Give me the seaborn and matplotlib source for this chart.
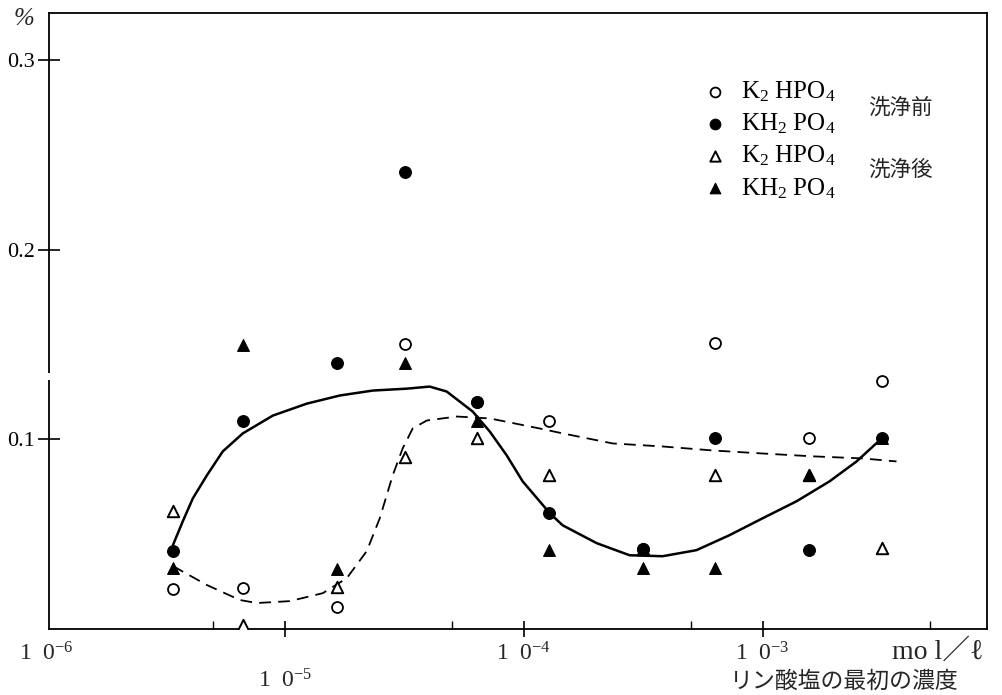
import matplotlib
matplotlib.use("Agg")
import matplotlib.pyplot as plt
import matplotlib.ticker as mticker
from matplotlib.patches import Rectangle
import pandas as pd
import seaborn as sns

# ---------------- data ----------------
conc = [3.4e-6, 6.7e-6, 1.65e-5, 3.2e-5, 6.4e-5, 1.28e-4, 3.15e-4, 6.3e-4, 1.57e-3, 3.15e-3]
k2hpo4_before = [0.021, 0.0216, 0.0116, 0.1505, 0.120, 0.110, 0.042, 0.151, 0.101, 0.131]
kh2po4_before = [0.041, 0.110, 0.1405, 0.241, 0.120, 0.061, 0.042, 0.101, 0.0416, 0.101]
k2hpo4_after = [0.062, 0.002, 0.022, 0.091, 0.101, 0.081, 0.042, 0.0815, 0.0815, 0.0426]
kh2po4_after = [0.032, 0.150, 0.0316, 0.1405, 0.110, 0.0416, 0.032, 0.032, 0.0815, 0.101]

solid_x = [3.40e-6, 3.74e-6, 4.12e-6, 4.72e-6, 5.50e-6, 6.67e-6, 8.91e-6, 1.236e-5, 1.70e-5,
           2.335e-5, 3.24e-5, 4.04e-5, 4.76e-5, 6.12e-5, 7.21e-5, 8.49e-5, 9.90e-5, 1.166e-4,
           1.285e-4, 1.456e-4, 2.02e-4, 2.776e-4, 3.815e-4, 5.29e-4, 7.27e-4, 1.0e-3, 1.388e-3,
           1.907e-3, 2.474e-3, 3.087e-3]
solid_y = [0.0442, 0.0568, 0.0689, 0.0811, 0.0937, 0.1032, 0.1126, 0.1189, 0.1232,
           0.1258, 0.1268, 0.1279, 0.1253, 0.1147, 0.1042, 0.0916, 0.0779, 0.0674,
           0.0611, 0.0547, 0.0453, 0.0389, 0.0384, 0.0416, 0.0495, 0.0584, 0.0674,
           0.0779, 0.0884, 0.0995]

dashed_x = [3.40e-6, 4.72e-6, 6.48e-6, 7.63e-6, 1.049e-5, 1.442e-5, 1.817e-5, 2.203e-5, 2.497e-5,
            2.83e-5, 3.115e-5, 3.43e-5, 3.93e-5, 5.245e-5, 7.21e-5, 1.166e-4, 1.456e-4, 2.357e-4,
            3.815e-4, 6.18e-4, 1.0e-3, 1.619e-3, 2.62e-3, 3.637e-3]
dashed_y = [0.0332, 0.0232, 0.0153, 0.0137, 0.0147, 0.0189, 0.0268, 0.0411, 0.0584,
            0.0811, 0.0953, 0.1058, 0.1100, 0.1121, 0.1111, 0.1058, 0.1032, 0.0979,
            0.0963, 0.0942, 0.0926, 0.0911, 0.0900, 0.0884]

legend_labels = ["K$_2$ HPO$_4$", "KH$_2$ PO$_4$", "K$_2$ HPO$_4$", "KH$_2$ PO$_4$"]
group_labels = ["洗浄前", "洗浄後"]
x_tick_vals = [1e-6, 1e-5, 1e-4, 1e-3]
x_tick_texts = ["1  0$^{-6}$", "1  0$^{-5}$", "1  0$^{-4}$", "1  0$^{-3}$"]
y_tick_vals = [0.1, 0.2, 0.3]
y_tick_texts = ["0.1", "0.2", "0.3"]
unit_text = "mo l／ℓ"
xlabel_text = "リン酸塩の最初の濃度"
ylabel_text = "%"

# ---------------- style ----------------
sns.set_theme(style="ticks")
serif = ["Liberation Serif", "Noto Sans CJK JP", "DejaVu Sans"]
cjk = ["Noto Sans CJK JP", "DejaVu Sans"]
plt.rcParams["font.family"] = serif
plt.rcParams["mathtext.fontset"] = "custom"
plt.rcParams["mathtext.rm"] = "Liberation Serif"
plt.rcParams["mathtext.it"] = "Liberation Serif:italic"
plt.rcParams["mathtext.bf"] = "Liberation Serif:bold"

fig = plt.figure(figsize=(10.03, 6.95), dpi=100)
ax = fig.add_axes([49 / 1003, 66 / 695, 938 / 1003, 616 / 695])

# curves
sns.lineplot(data=pd.DataFrame({"x": solid_x, "y": solid_y}), x="x", y="y", ax=ax,
             sort=False, estimator=None, color="black", linewidth=1.8)
sns.lineplot(data=pd.DataFrame({"x": dashed_x, "y": dashed_y}), x="x", y="y", ax=ax,
             sort=False, estimator=None, color="black", linewidth=1.3, dashes=False,
             linestyle=(0, (6.5, 4)))

# points
sns.scatterplot(x=conc, y=k2hpo4_before, ax=ax, marker="o", s=62, color="white",
                edgecolor="black", linewidth=1.3, label=legend_labels[0], zorder=3)
sns.scatterplot(x=conc, y=kh2po4_before, ax=ax, marker="o", s=72, color="black",
                edgecolor="black", linewidth=0.8, label=legend_labels[1], zorder=4)
sns.scatterplot(x=conc, y=k2hpo4_after, ax=ax, marker="^", s=68, color="white",
                edgecolor="black", linewidth=1.4, label=legend_labels[2], zorder=3)
sns.scatterplot(x=conc, y=kh2po4_after, ax=ax, marker="^", s=72, color="black",
                edgecolor="black", linewidth=0.8, label=legend_labels[3], zorder=4)

# axes
ax.set_xscale("log")
ax.set_xlim(1.03e-6, 8.7e-3)
ax.set_ylim(0, 0.325)
ax.set_xlabel("")
ax.set_ylabel("")
ax.xaxis.set_major_locator(mticker.FixedLocator(x_tick_vals[1:]))
ax.xaxis.set_minor_locator(mticker.FixedLocator([5e-6, 5e-5, 5e-4, 5e-3]))
ax.xaxis.set_major_formatter(mticker.NullFormatter())
ax.xaxis.set_minor_formatter(mticker.NullFormatter())
ax.set_yticks(y_tick_vals)
ax.set_yticklabels(y_tick_texts)
ax.yaxis.set_minor_locator(mticker.NullLocator())
ax.tick_params(axis="x", which="major", direction="inout", length=11, width=1.2, color="black")
ax.tick_params(axis="x", which="minor", direction="in", length=5.5, width=1.0, color="black")
ax.tick_params(axis="y", which="major", direction="inout", length=15.5, width=1.2,
               color="black", labelsize=16, pad=2.5, labelcolor="black")
for sp in ax.spines.values():
    sp.set_visible(True)
    sp.set_linewidth(1.3)
    sp.set_color("black")

# small break in the y axis line
ax.add_patch(Rectangle((-0.004, 0.405), 0.008, 0.01, transform=ax.transAxes,
                       facecolor="white", edgecolor="none", clip_on=False, zorder=10))

# x tick labels (10^-5 sits lower in the reference)
trans = ax.get_xaxis_transform()
y_offsets = [-0.040, -0.085, -0.040, -0.040]
for xv, txt, yo in zip(x_tick_vals, x_tick_texts, y_offsets):
    ax.text(xv, yo, txt, transform=trans, ha="center", va="center", fontsize=17,
            family=serif, clip_on=False)

fig.text(0.935, 0.062, unit_text, ha="center", va="center", fontsize=20, family=serif)
fig.text(0.842, 0.020, xlabel_text, ha="center", va="center", fontsize=16.5, family=cjk)
fig.text(0.024, 0.972, ylabel_text, ha="center", va="center", fontsize=18, family=serif,
         style="italic")

# legend
leg = ax.legend(loc="upper left", bbox_to_anchor=(0.686, 0.908), frameon=False,
                fontsize=18, labelspacing=0.3, handlelength=1.0, handletextpad=0.55,
                borderaxespad=0, markerscale=0.9)
for t in leg.get_texts():
    t.set_color("black")

ax.text(0.9075, 0.847, group_labels[0], transform=ax.transAxes, ha="center", va="center",
        fontsize=15.5, family=cjk)
ax.text(0.9075, 0.745, group_labels[1], transform=ax.transAxes, ha="center", va="center",
        fontsize=15.5, family=cjk)

fig.savefig("out.png", dpi=100)
